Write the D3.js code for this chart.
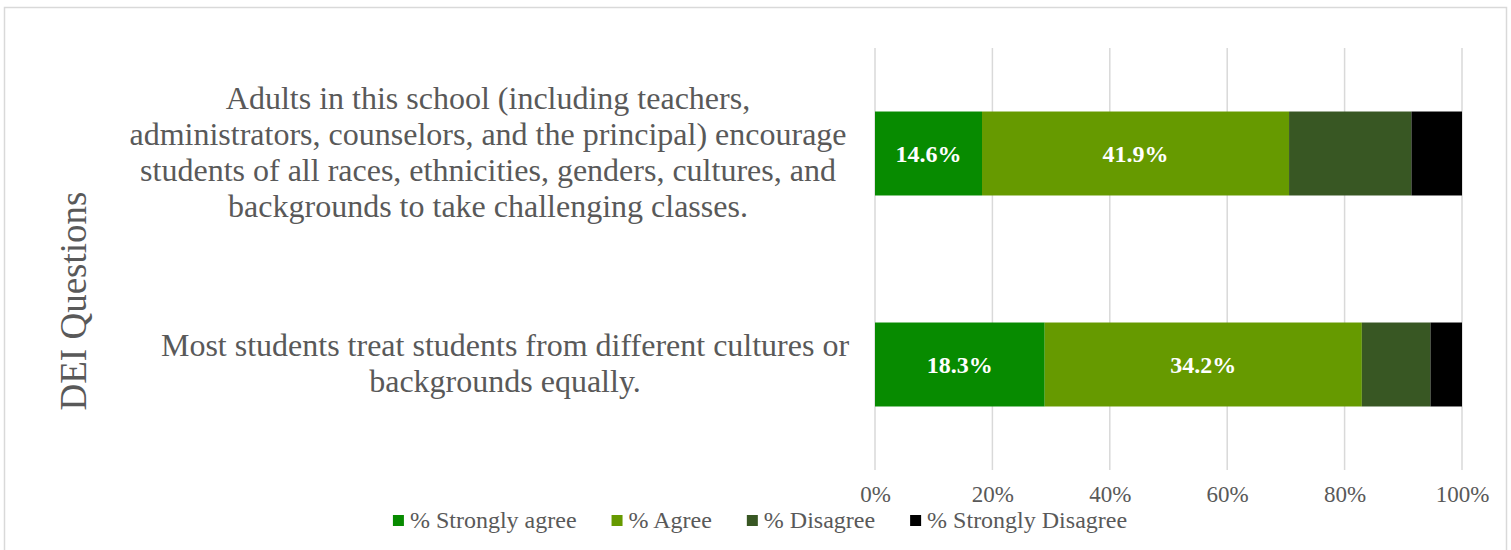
<!DOCTYPE html>
<html>
<head>
<meta charset="utf-8">
<script src="https://cdn.jsdelivr.net/npm/d3@7"></script>
<style>
  html, body { margin: 0; padding: 0; background: #fff; }
  svg { display: block; }
  text { font-family: "Liberation Serif", "Times New Roman", serif; }
</style>
</head>
<body>
<svg id="chart" width="1511" height="550"></svg>
<script>
// ---- data ----
const categories = [
  "Adults in this school (including teachers,\nadministrators, counselors, and the principal) encourage\nstudents of all races, ethnicities, genders, cultures, and\nbackgrounds to take challenging classes.",
  "Most students treat students from different cultures or\nbackgrounds equally."
];
const seriesNames = ["% Strongly agree", "% Agree", "% Disagree", "% Strongly Disagree"];
const stronglyAgree = [14.6, 18.3];
const agree = [41.9, 34.2];
const disagree = [16.7, 7.4];
const stronglyDisagree = [6.9, 3.4];
const labelledSeries = ["% Strongly agree", "% Agree"];
const tickValues = [0, 0.2, 0.4, 0.6, 0.8, 1.0];
const axisTitle = "DEI Questions";
const colors = ["#078B00", "#669A00", "#385723", "#000000"];

// ---- build ----
const seriesValues = [stronglyAgree, agree, disagree, stronglyDisagree];
const rows = categories.map((c, i) => {
  const r = { category: c };
  seriesNames.forEach((s, j) => r[s] = seriesValues[j][i]);
  return r;
});
const stack = d3.stack().keys(seriesNames).offset(d3.stackOffsetExpand);
const stacked = stack(rows);

const svg = d3.select("#chart");

svg.append("rect")
  .attr("x", 4.5).attr("y", 7.5).attr("width", 1502).attr("height", 560)
  .attr("fill", "#fff").attr("stroke", "#d9d9d9").attr("stroke-width", 1.5);

const x = d3.scaleLinear().domain([0, 1]).range([875, 1462]);
const y = d3.scaleBand().domain(categories).range([48, 470])
  .paddingInner(0.602).paddingOuter(0.301);

// gridlines
svg.append("g").selectAll("line").data(tickValues).join("line")
  .attr("x1", d => x(d)).attr("x2", d => x(d))
  .attr("y1", 48).attr("y2", 470)
  .attr("stroke", "#d9d9d9").attr("stroke-width", 1.5);

// bars
const color = d3.scaleOrdinal().domain(seriesNames).range(colors);
const layers = svg.append("g").selectAll("g").data(stacked).join("g")
  .attr("fill", d => color(d.key));
layers.selectAll("rect").data(d => d).join("rect")
  .attr("x", d => x(d[0]))
  .attr("width", d => x(d[1]) - x(d[0]))
  .attr("y", d => y(d.data.category))
  .attr("height", y.bandwidth());

// data labels
stacked.filter(s => labelledSeries.includes(s.key)).forEach(s => {
  svg.append("g").selectAll("text").data(s).join("text")
    .attr("x", d => (x(d[0]) + x(d[1])) / 2)
    .attr("y", d => y(d.data.category) + y.bandwidth() / 2)
    .attr("dy", "0.35em")
    .attr("text-anchor", "middle")
    .attr("fill", "#fff")
    .attr("font-weight", "bold")
    .attr("font-size", 24)
    .text(d => d.data[s.key].toFixed(1) + "%");
});

// x axis tick labels
const xAxis = d3.axisBottom(x).tickValues(tickValues).tickFormat(d3.format(".0%")).tickSize(0).tickPadding(0);
const gx = svg.append("g").attr("transform", "translate(0,502)").call(xAxis);
gx.attr("font-family", null);
gx.select(".domain").remove();
gx.selectAll("text").attr("dy", 0).attr("y", 0)
  .attr("font-size", 23).attr("fill", "#595959");

// category labels
const catFont = 32, lineH = 36;
const labelCenters = [488, 505];
categories.forEach((c, k) => {
  const t = svg.append("text").attr("font-size", catFont).attr("fill", "#595959")
    .attr("text-anchor", "middle");
  const lines = c.split("\n");
  const cy = y(c) + y.bandwidth() / 2;
  const firstY = cy - (lines.length - 1) * lineH / 2;
  lines.forEach((ln, i) => {
    t.append("tspan").attr("x", labelCenters[k]).attr("y", firstY + i * lineH)
      .attr("dy", "0.29em").text(ln);
  });
});

// y axis title
svg.append("text")
  .attr("transform", "translate(86,301) rotate(-90)")
  .attr("text-anchor", "middle")
  .attr("font-size", 37).attr("fill", "#595959")
  .text(axisTitle);

// legend
const legend = svg.append("g");
const items = legend.selectAll("g").data(seriesNames).join("g");
items.append("rect").attr("width", 11).attr("height", 11).attr("y", 515)
  .attr("fill", d => color(d));
items.append("text").attr("x", 17).attr("y", 528)
  .attr("font-size", 24).attr("fill", "#595959").text(d => d);
const widths = [];
items.each(function () {
  const tw = d3.select(this).select("text").node().getComputedTextLength();
  widths.push(17 + tw);
});
const total = d3.sum(widths) + 35 * (widths.length - 1);
let cx = 760 - total / 2;
items.attr("transform", (d, i) => {
  const tx = cx;
  cx += widths[i] + 35;
  return `translate(${tx},0)`;
});
</script>
</body>
</html>
